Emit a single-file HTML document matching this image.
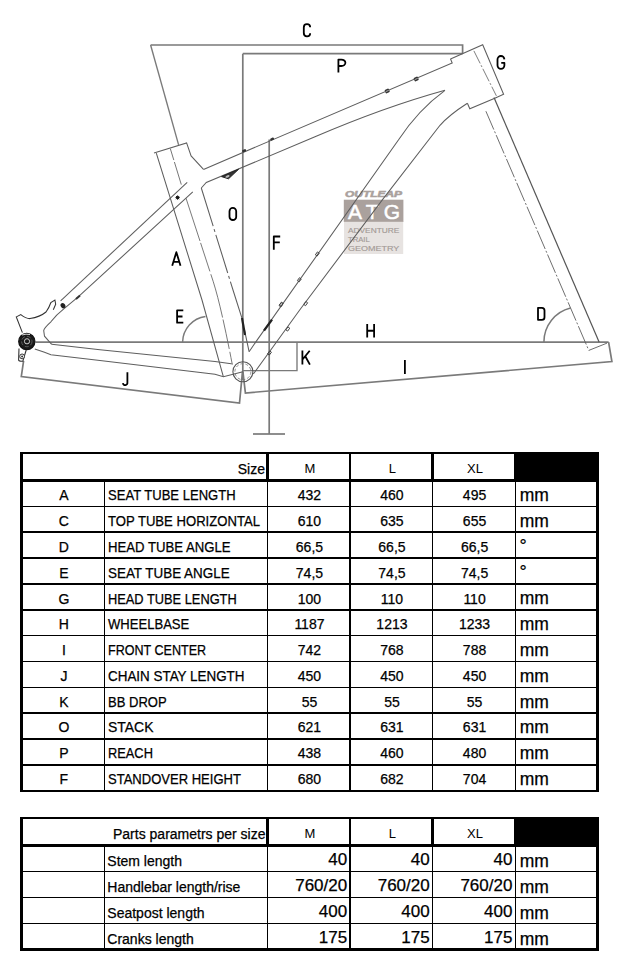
<!DOCTYPE html>
<html><head><meta charset="utf-8"><style>
html,body{margin:0;padding:0;background:#fff;}
body{width:622px;height:962px;position:relative;overflow:hidden;font-family:"Liberation Sans",sans-serif;color:#000;}
.l{position:absolute;background:#000;}
.t{position:absolute;white-space:nowrap;line-height:0;height:0;}
.t.c{text-align:center} .t.r{text-align:right}
.f13{font-size:13px} .f13_5{font-size:13.5px} .f14{font-size:14px} .f17{font-size:17px} .f17_5{font-size:17.5px} .f18{font-size:18px} .t{-webkit-text-stroke:0.25px #000} .t.ns{-webkit-text-stroke:0}
svg{position:absolute;left:0;top:0}
</style></head><body>
<svg width="622" height="440" viewBox="0 0 622 440"><g>
<rect x="343.8" y="199.7" width="59.6" height="22.3" fill="#aaa19d"/>
<rect x="344" y="221.8" width="59.2" height="32.2" fill="#e7e3e1"/>
<text x="345" y="196.8" font-family="Liberation Sans" font-weight="bold" font-style="italic" font-size="8.3" fill="#aaa19d" stroke="#aaa19d" stroke-width="0.5" textLength="57" lengthAdjust="spacingAndGlyphs">OUTLEAP</text>
<text x="348" y="218.8" font-family="Liberation Sans" font-size="21" fill="#fff" stroke="#fff" stroke-width="0.5" textLength="52" lengthAdjust="spacing">ATG</text>
<text x="348" y="232.7" font-family="Liberation Sans" font-size="8" fill="#a39a96" stroke="#a39a96" stroke-width="0.15" textLength="51.3" lengthAdjust="spacingAndGlyphs">ADVENTURE</text>
<text x="348" y="242.4" font-family="Liberation Sans" font-size="8" fill="#a39a96" stroke="#a39a96" stroke-width="0.15" textLength="21.7" lengthAdjust="spacingAndGlyphs">TRAIL</text>
<text x="348" y="250.9" font-family="Liberation Sans" font-size="8" fill="#a39a96" stroke="#a39a96" stroke-width="0.15" textLength="51.3" lengthAdjust="spacingAndGlyphs">GEOMETRY</text>
</g>
<path d="M150.6 45 H462.6 V53.6" stroke="#7a7a7a" stroke-width="1.7" fill="none" />
<path d="M150.6 45 L178.6 144.9" stroke="#7a7a7a" stroke-width="1.36" fill="none" />
<path d="M242.8 53.7 H462.6" stroke="#7a7a7a" stroke-width="1.7" fill="none" />
<path d="M242.8 53.7 V380" stroke="#7a7a7a" stroke-width="1.7" fill="none" />
<path d="M269.2 139.5 V434" stroke="#7a7a7a" stroke-width="1.7" fill="none" />
<path d="M253 434 H285" stroke="#7a7a7a" stroke-width="1.7" fill="none" />
<path d="M35.4 342.1 H608.6" stroke="#7a7a7a" stroke-width="1.7" fill="none" />
<path d="M242.9 370.6 H297 V342.1" stroke="#7a7a7a" stroke-width="1.36" fill="none" />
<path d="M242.9 371.7 L245.4 393 L611.9 361.6 L608.6 342.1" stroke="#7a7a7a" stroke-width="1.7" fill="none" />
<path d="M23.6 360.8 L21.3 376.5 L239.5 403 L242.5 371.7" stroke="#7a7a7a" stroke-width="1.7" fill="none" />
<path d="M182.6 342.1 A26.3 26.3 0 0 1 205.5 316.5" stroke="#7a7a7a" stroke-width="1.4" fill="none" />
<path d="M543.9 342.1 A35 35 0 0 1 570.5 308" stroke="#7a7a7a" stroke-width="1.5" fill="none" />
<path d="M154 153.1 L186.6 142.9 L191.1 155.9 L203.5 169.4" stroke="#5e5e5e" stroke-width="1.05" fill="none" />
<path d="M156.3 153.1 L202 300 L223.4 376.8" stroke="#5e5e5e" stroke-width="1.05" fill="none" />
<path d="M201.3 188 L233 290 L242 318.3 L249.1 351.7" stroke="#5e5e5e" stroke-width="1.05" fill="none" stroke-dasharray="40 3 3 3"/>
<path d="M242 318 L245 335" stroke="#222" stroke-width="2.2" fill="none" />
<path d="M170.3 148.6 L181.3 184.6" stroke="#666" stroke-width="0.9" fill="none" stroke-dasharray="12 2 30 2"/>
<path d="M186 198.2 L213.3 281.8 Q221 306 232 363" stroke="#6a6a6a" stroke-width="0.9" fill="none" stroke-dasharray="45 2 30 3"/>
<path d="M203.5 169.4 L452.2 63 L450.5 58.9" stroke="#5e5e5e" stroke-width="1.05" fill="none" />
<path d="M201.3 188 L206.3 182.5 L315 136.8 Q384.6 107 445 90.3" stroke="#5e5e5e" stroke-width="1.05" fill="none" />
<path d="M450.5 58.9 L482.7 44.8 L503.6 94.3 L494.8 98.3 L469.8 108.8 L467.4 103.2" stroke="#5e5e5e" stroke-width="1.05" fill="none" />
<path d="M473.9 50.9 L496.4 95.9" stroke="#5e5e5e" stroke-width="0.8" fill="none" stroke-dasharray="14 2 2 2"/>
<path d="M445 90.3 Q418 110 398.4 140 L256.2 341.4 L249.1 351.7" stroke="#5e5e5e" stroke-width="1.05" fill="none" />
<path d="M467.4 103.2 Q449 115 440 125.3 L382.9 199.1 L300.6 308.7 L253.3 374" stroke="#5e5e5e" stroke-width="1.05" fill="none" />
<path d="M264 330.7 L272 319.6" stroke="#222" stroke-width="2.3" fill="none" />
<rect x="315.5" y="252.9" width="3.6" height="2.2" fill="none" stroke="#444" stroke-width="0.9" transform="rotate(-54 317.3 254)"/>
<rect x="297.5" y="278.7" width="3.6" height="2.2" fill="none" stroke="#444" stroke-width="0.9" transform="rotate(-54 299.3 279.8)"/>
<rect x="279.5" y="303.09999999999997" width="3.6" height="2.2" fill="none" stroke="#444" stroke-width="0.9" transform="rotate(-54 281.3 304.2)"/>
<rect x="303.9" y="302.5" width="3.6" height="2.2" fill="none" stroke="#444" stroke-width="0.9" transform="rotate(-54 305.7 303.6)"/>
<rect x="279.2" y="303.7" width="3.6" height="2.2" fill="none" stroke="#444" stroke-width="0.9" transform="rotate(-54 281 304.8)"/>
<rect x="286.0" y="327.9" width="3.6" height="2.2" fill="none" stroke="#444" stroke-width="0.9" transform="rotate(-54 287.8 329)"/>
<rect x="267.7" y="351.9" width="3.6" height="2.2" fill="none" stroke="#444" stroke-width="0.9" transform="rotate(-54 269.5 353)"/>
<path d="M494 97.5 L599.1 342.1" stroke="#555" stroke-width="1.2" fill="none" />
<path d="M485.9 111.2 L588.8 350.4 L608.6 342.5" stroke="#5e5e5e" stroke-width="0.9" fill="none" stroke-dasharray="20 2 2 2"/>
<path d="M51.7 344.3 L100 349.8 L215 361.4 L233 364" stroke="#5e5e5e" stroke-width="1.05" fill="none" />
<path d="M34.8 349.1 L44.5 352.3 L50.9 354.7 L100 360.4 L215 374.2 L223.4 376.8 L242.9 371.7" stroke="#5e5e5e" stroke-width="1.05" fill="none" />
<path d="M60.6 300.9 L187.2 182.3" stroke="#5e5e5e" stroke-width="1.05" fill="none" />
<path d="M192.8 191.9 L78.2 296.9 L63.8 308.9 Q56 315 50.9 321.8 Q44 328 43.7 330.6 L44.5 336.2 L51.7 344.3" stroke="#5e5e5e" stroke-width="1.05" fill="none" />
<path d="M80 295.5 L76 299" stroke="#333" stroke-width="2" fill="none" />
<path d="M22.4 332.6 L16.3 316.9 L20.8 314.6 Q25.8 318.6 30 318.6 Q40 317 46 312 Q49 308 50.9 302.5 L54.9 300.1 L55.7 304.1 L53.3 309.7" stroke="#333" stroke-width="1.05" fill="none" />
<path d="M19 348.4 L18.6 360 Q19 361.5 22.8 361.3 L26.2 350" stroke="#333" stroke-width="1.1" fill="none" />
<circle cx="22.1" cy="356.4" r="2.4" fill="#fff" stroke="#333" stroke-width="1"/>
<circle cx="22.1" cy="356.6" r="1" fill="#333"/>
<circle cx="26.8" cy="341.5" r="8.1" fill="#1a1a1a" stroke="#111" stroke-width="1.2"/>
<circle cx="26.8" cy="341.5" r="5.2" fill="none" stroke="#777" stroke-width="0.7" stroke-dasharray="4 2"/>
<circle cx="27" cy="341.3" r="2.6" fill="none" stroke="#ccc" stroke-width="1"/>
<path d="M22 335 Q26 333.5 30 334.5" stroke="#ddd" stroke-width="1" fill="none"/>
<circle cx="242.9" cy="371.7" r="10" fill="none" stroke="#555" stroke-width="1.1"/>
<circle cx="242.9" cy="371.7" r="8" fill="none" stroke="#777" stroke-width="0.8" stroke-dasharray="3 2"/>
<ellipse cx="63" cy="305.7" rx="2.3" ry="2.8" fill="#222" transform="rotate(-30 63 305.7)"/>
<path d="M175.4 197.6 H179.79999999999998 M177.6 195.4 V199.79999999999998 M176.0 196.0 L179.2 199.2 M176.0 199.2 L179.2 196.0" stroke="#222" stroke-width="1"/>
<circle cx="177.6" cy="197.6" r="1.3" fill="#111"/>
<path d="M221.5 176.6 L238.6 169.2 L228.5 178.8 Z" fill="#333" stroke="#222" stroke-width="1"/>
<ellipse cx="227.5" cy="176.4" rx="2.2" ry="1.1" fill="#bbb" transform="rotate(-25 227.5 176.4)"/>
<rect x="242.2" y="149.5" width="4" height="2.4" rx="1" fill="#333" transform="rotate(-23 244.2 150.9)"/>
<rect x="270.2" y="137.9" width="4" height="2.4" rx="1" fill="#333" transform="rotate(-23 272.2 139.3)"/>
<rect x="385.0" y="89" width="4.4" height="4" rx="1" fill="#333" transform="rotate(-23 387.2 91)"/>
<path d="M385.7 91.6 L388.7 90.4" stroke="#ccc" stroke-width="0.8"/>
<rect x="414.0" y="77" width="4.4" height="4" rx="1" fill="#333" transform="rotate(-23 416.2 79)"/>
<path d="M414.7 79.6 L417.7 78.4" stroke="#ccc" stroke-width="0.8"/>
<path d="M310.2 27.340000000000014 A3.200000000000017 3.200000000000017 0 0 0 303.79999999999995 27.500000000000014 L303.79999999999995 33.09999999999999 A3.200000000000017 3.200000000000017 0 0 0 310.2 33.25999999999999" stroke="#000" stroke-width="1.8" fill="none" stroke-linejoin="round"/>
<path d="M338.4 72.60000000000001 L338.4 59.6 L341.4 59.6 A4.000000000000028 3.206500000000002 0 0 1 341.4 66.013 L338.4 66.013" stroke="#000" stroke-width="1.8" fill="none" stroke-linejoin="round"/>
<path d="M504.40000000000003 59.37750000000002 A3.450000000000017 3.450000000000017 0 0 0 497.5 59.55000000000002 L497.5 65.34999999999998 A3.450000000000017 3.450000000000017 0 0 0 504.40000000000003 65.34999999999998 L504.40000000000003 62.95 L501.25000000000006 62.95" stroke="#000" stroke-width="1.8" fill="none" stroke-linejoin="round"/>
<path d="M229.5 211.25 A3.3499999999999943 3.3499999999999943 0 0 1 236.2 211.25 L236.2 216.65 A3.3499999999999943 3.3499999999999943 0 0 1 229.5 216.65 Z" stroke="#000" stroke-width="1.8" fill="none" stroke-linejoin="round"/>
<path d="M273.79999999999995 249.7 L273.79999999999995 236.5 L280.2 236.5 M273.79999999999995 242.34999999999997 L279.8 242.34999999999997" stroke="#000" stroke-width="1.8" fill="none" stroke-linejoin="round"/>
<path d="M172.2 265.7 L176.35 252.2 L180.5 265.7 M173.5 261.91999999999996 L179.2 261.91999999999996" stroke="#000" stroke-width="1.8" fill="none" stroke-linejoin="round"/>
<path d="M183.29999999999998 310.29999999999995 L177.1 310.29999999999995 L177.1 322.7 L183.29999999999998 322.7 M177.1 316.5 L182.49999999999997 316.5" stroke="#000" stroke-width="1.8" fill="none" stroke-linejoin="round"/>
<path d="M367.2 324 L367.2 337.5 M374.1 324 L374.1 337.5 M367.2 330.75 L374.1 330.75" stroke="#000" stroke-width="1.8" fill="none" stroke-linejoin="round"/>
<path d="M404.9 360 L404.9 374.1" stroke="#000" stroke-width="1.8" fill="none" stroke-linejoin="round"/>
<path d="M127.4 372.2 L127.4 382.55 A2.25 2.25 0 0 1 122.9 383.225" stroke="#000" stroke-width="1.8" fill="none" stroke-linejoin="round"/>
<path d="M302.4 350.5 L302.4 364.6 M309.70000000000005 350.8 L302.7 359.242 M305.53499999999997 356.704 L309.90000000000003 364.6" stroke="#000" stroke-width="1.8" fill="none" stroke-linejoin="round"/>
<path d="M538.0 307.79999999999995 L541.9 307.79999999999995 A2.6 2.6 0 0 1 544.5 310.4 L544.5 317.2 A2.6 2.6 0 0 1 541.9 319.8 L538.0 319.8 Z" stroke="#000" stroke-width="1.8" fill="none" stroke-linejoin="round"/></svg>
<div class="l" style="left:515px;top:453px;width:84px;height:27.5px"></div>
<div class="l" style="left:20px;top:451.75px;width:579px;height:2.5px"></div>
<div class="l" style="left:20px;top:479.25px;width:579px;height:2.5px"></div>
<div class="l" style="left:20px;top:505.55px;width:579px;height:1.6px"></div>
<div class="l" style="left:20px;top:531.40px;width:579px;height:1.6px"></div>
<div class="l" style="left:20px;top:557.25px;width:579px;height:1.6px"></div>
<div class="l" style="left:20px;top:583.10px;width:579px;height:1.6px"></div>
<div class="l" style="left:20px;top:608.95px;width:579px;height:1.6px"></div>
<div class="l" style="left:20px;top:634.80px;width:579px;height:1.6px"></div>
<div class="l" style="left:20px;top:660.65px;width:579px;height:1.6px"></div>
<div class="l" style="left:20px;top:686.50px;width:579px;height:1.6px"></div>
<div class="l" style="left:20px;top:712.35px;width:579px;height:1.6px"></div>
<div class="l" style="left:20px;top:738.20px;width:579px;height:1.6px"></div>
<div class="l" style="left:20px;top:764.05px;width:579px;height:1.6px"></div>
<div class="l" style="left:20px;top:789.60px;width:579px;height:2.2px"></div>
<div class="l" style="left:20.00px;top:452px;width:3px;height:339.70000000000005px"></div>
<div class="l" style="left:596.00px;top:452px;width:3px;height:339.70000000000005px"></div>
<div class="l" style="left:266.45px;top:453px;width:2.5px;height:27.5px"></div>
<div class="l" style="left:348.95px;top:453px;width:2.5px;height:27.5px"></div>
<div class="l" style="left:431.45px;top:453px;width:2.5px;height:27.5px"></div>
<div class="l" style="left:514.15px;top:453px;width:2.5px;height:27.5px"></div>
<div class="l" style="left:103.70px;top:480.5px;width:1.6px;height:310.20000000000005px"></div>
<div class="l" style="left:266.90px;top:480.5px;width:1.6px;height:310.20000000000005px"></div>
<div class="l" style="left:349.40px;top:480.5px;width:1.6px;height:310.20000000000005px"></div>
<div class="l" style="left:431.90px;top:480.5px;width:1.6px;height:310.20000000000005px"></div>
<div class="l" style="left:514.60px;top:480.5px;width:1.6px;height:310.20000000000005px"></div>
<div class="t f14 r" style="left:65px;top:468.65px;width:200px">Size</div>
<div class="t f13 ns c" style="left:249.95px;top:469.0px;width:120px">M</div>
<div class="t f13 ns c" style="left:332.45px;top:469.0px;width:120px">L</div>
<div class="t f13 ns c" style="left:415.04999999999995px;top:469.0px;width:120px">XL</div>
<div class="t f14 c" style="left:3.8999999999999986px;top:495.45px;width:120px">A</div>
<div class="t f14" style="left:108.1px;top:495.45px;transform:scaleX(0.9318);transform-origin:0 0">SEAT TUBE LENGTH</div>
<div class="t f14 c" style="left:249.45px;top:495.45px;width:120px">432</div>
<div class="t f14 c" style="left:331.95px;top:495.45px;width:120px">460</div>
<div class="t f14 c" style="left:414.54999999999995px;top:495.45px;width:120px">495</div>
<div class="t f17_5" style="left:519.8px;top:495.34px">mm</div>
<div class="t f14 c" style="left:3.8999999999999986px;top:521.23px;width:120px">C</div>
<div class="t f14" style="left:108.1px;top:521.23px;transform:scaleX(0.9364);transform-origin:0 0">TOP TUBE HORIZONTAL</div>
<div class="t f14 c" style="left:249.45px;top:521.23px;width:120px">610</div>
<div class="t f14 c" style="left:331.95px;top:521.23px;width:120px">635</div>
<div class="t f14 c" style="left:414.54999999999995px;top:521.23px;width:120px">655</div>
<div class="t f17_5" style="left:519.8px;top:521.12px">mm</div>
<div class="t f14 c" style="left:3.8999999999999986px;top:547.01px;width:120px">D</div>
<div class="t f14" style="left:108.1px;top:547.01px;transform:scaleX(0.9398);transform-origin:0 0">HEAD TUBE ANGLE</div>
<div class="t f14 c" style="left:249.45px;top:547.01px;width:120px">66,5</div>
<div class="t f14 c" style="left:331.95px;top:547.01px;width:120px">66,5</div>
<div class="t f14 c" style="left:414.54999999999995px;top:547.01px;width:120px">66,5</div>
<div class="t f18" style="left:519.5px;top:546.22px">°</div>
<div class="t f14 c" style="left:3.8999999999999986px;top:572.79px;width:120px">E</div>
<div class="t f14" style="left:108.1px;top:572.79px;transform:scaleX(0.9588);transform-origin:0 0">SEAT TUBE ANGLE</div>
<div class="t f14 c" style="left:249.45px;top:572.79px;width:120px">74,5</div>
<div class="t f14 c" style="left:331.95px;top:572.79px;width:120px">74,5</div>
<div class="t f14 c" style="left:414.54999999999995px;top:572.79px;width:120px">74,5</div>
<div class="t f18" style="left:519.5px;top:572.0px">°</div>
<div class="t f14 c" style="left:3.8999999999999986px;top:598.57px;width:120px">G</div>
<div class="t f14" style="left:108.1px;top:598.57px;transform:scaleX(0.9157);transform-origin:0 0">HEAD TUBE LENGTH</div>
<div class="t f14 c" style="left:249.45px;top:598.57px;width:120px">100</div>
<div class="t f14 c" style="left:331.95px;top:598.57px;width:120px">110</div>
<div class="t f14 c" style="left:414.54999999999995px;top:598.57px;width:120px">110</div>
<div class="t f17_5" style="left:519.8px;top:598.46px">mm</div>
<div class="t f14 c" style="left:3.8999999999999986px;top:624.35px;width:120px">H</div>
<div class="t f14" style="left:108.1px;top:624.35px;transform:scaleX(0.933);transform-origin:0 0">WHEELBASE</div>
<div class="t f14 c" style="left:249.45px;top:624.35px;width:120px">1187</div>
<div class="t f14 c" style="left:331.95px;top:624.35px;width:120px">1213</div>
<div class="t f14 c" style="left:414.54999999999995px;top:624.35px;width:120px">1233</div>
<div class="t f17_5" style="left:519.8px;top:624.24px">mm</div>
<div class="t f14 c" style="left:3.8999999999999986px;top:650.13px;width:120px">I</div>
<div class="t f14" style="left:108.1px;top:650.13px;transform:scaleX(0.8975);transform-origin:0 0">FRONT CENTER</div>
<div class="t f14 c" style="left:249.45px;top:650.13px;width:120px">742</div>
<div class="t f14 c" style="left:331.95px;top:650.13px;width:120px">768</div>
<div class="t f14 c" style="left:414.54999999999995px;top:650.13px;width:120px">788</div>
<div class="t f17_5" style="left:519.8px;top:650.02px">mm</div>
<div class="t f14 c" style="left:3.8999999999999986px;top:675.91px;width:120px">J</div>
<div class="t f14" style="left:108.1px;top:675.91px;transform:scaleX(0.9588);transform-origin:0 0">CHAIN STAY LENGTH</div>
<div class="t f14 c" style="left:249.45px;top:675.91px;width:120px">450</div>
<div class="t f14 c" style="left:331.95px;top:675.91px;width:120px">450</div>
<div class="t f14 c" style="left:414.54999999999995px;top:675.91px;width:120px">450</div>
<div class="t f17_5" style="left:519.8px;top:675.8px">mm</div>
<div class="t f14 c" style="left:3.8999999999999986px;top:701.69px;width:120px">K</div>
<div class="t f14" style="left:108.1px;top:701.69px;transform:scaleX(0.9299);transform-origin:0 0">BB DROP</div>
<div class="t f14 c" style="left:249.45px;top:701.69px;width:120px">55</div>
<div class="t f14 c" style="left:331.95px;top:701.69px;width:120px">55</div>
<div class="t f14 c" style="left:414.54999999999995px;top:701.69px;width:120px">55</div>
<div class="t f17_5" style="left:519.8px;top:701.58px">mm</div>
<div class="t f14 c" style="left:3.8999999999999986px;top:727.47px;width:120px">O</div>
<div class="t f14" style="left:108.1px;top:727.47px;transform:scaleX(0.9969);transform-origin:0 0">STACK</div>
<div class="t f14 c" style="left:249.45px;top:727.47px;width:120px">621</div>
<div class="t f14 c" style="left:331.95px;top:727.47px;width:120px">631</div>
<div class="t f14 c" style="left:414.54999999999995px;top:727.47px;width:120px">631</div>
<div class="t f17_5" style="left:519.8px;top:727.36px">mm</div>
<div class="t f14 c" style="left:3.8999999999999986px;top:753.25px;width:120px">P</div>
<div class="t f14" style="left:108.1px;top:753.25px;transform:scaleX(0.916);transform-origin:0 0">REACH</div>
<div class="t f14 c" style="left:249.45px;top:753.25px;width:120px">438</div>
<div class="t f14 c" style="left:331.95px;top:753.25px;width:120px">460</div>
<div class="t f14 c" style="left:414.54999999999995px;top:753.25px;width:120px">480</div>
<div class="t f17_5" style="left:519.8px;top:753.14px">mm</div>
<div class="t f14 c" style="left:3.8999999999999986px;top:779.03px;width:120px">F</div>
<div class="t f14" style="left:108.1px;top:779.03px;transform:scaleX(0.9302);transform-origin:0 0">STANDOVER HEIGHT</div>
<div class="t f14 c" style="left:249.45px;top:779.03px;width:120px">680</div>
<div class="t f14 c" style="left:331.95px;top:779.03px;width:120px">682</div>
<div class="t f14 c" style="left:414.54999999999995px;top:779.03px;width:120px">704</div>
<div class="t f17_5" style="left:519.8px;top:778.92px">mm</div>
<div class="l" style="left:515px;top:818px;width:84px;height:27.299999999999955px"></div>
<div class="l" style="left:20px;top:816.75px;width:579px;height:2.5px"></div>
<div class="l" style="left:20px;top:844.05px;width:579px;height:2.5px"></div>
<div class="l" style="left:20px;top:870.57px;width:579px;height:1.6px"></div>
<div class="l" style="left:20px;top:896.64px;width:579px;height:1.6px"></div>
<div class="l" style="left:20px;top:922.71px;width:579px;height:1.6px"></div>
<div class="l" style="left:20px;top:948.48px;width:579px;height:2.2px"></div>
<div class="l" style="left:20.00px;top:817px;width:3px;height:133.57999999999993px"></div>
<div class="l" style="left:596.00px;top:817px;width:3px;height:133.57999999999993px"></div>
<div class="l" style="left:266.45px;top:818px;width:2.5px;height:27.299999999999955px"></div>
<div class="l" style="left:348.95px;top:818px;width:2.5px;height:27.299999999999955px"></div>
<div class="l" style="left:431.45px;top:818px;width:2.5px;height:27.299999999999955px"></div>
<div class="l" style="left:514.15px;top:818px;width:2.5px;height:27.299999999999955px"></div>
<div class="l" style="left:103.70px;top:845.3px;width:1.6px;height:104.27999999999997px"></div>
<div class="l" style="left:266.90px;top:845.3px;width:1.6px;height:104.27999999999997px"></div>
<div class="l" style="left:349.40px;top:845.3px;width:1.6px;height:104.27999999999997px"></div>
<div class="l" style="left:431.90px;top:845.3px;width:1.6px;height:104.27999999999997px"></div>
<div class="l" style="left:514.60px;top:845.3px;width:1.6px;height:104.27999999999997px"></div>
<div class="t f14 r" style="left:65.5px;top:833.95px;width:200px">Parts parametrs per size</div>
<div class="t f13 ns c" style="left:249.95px;top:834.3px;width:120px">M</div>
<div class="t f13 ns c" style="left:332.45px;top:834.3px;width:120px">L</div>
<div class="t f13 ns c" style="left:415.04999999999995px;top:834.3px;width:120px">XL</div>
<div class="t f14" style="left:107.3px;top:860.85px">Stem length</div>
<div class="t f17 r" style="left:147.2px;top:860.21px;width:200px">40</div>
<div class="t f17 r" style="left:229.7px;top:860.21px;width:200px">40</div>
<div class="t f17 r" style="left:312.4px;top:860.21px;width:200px">40</div>
<div class="t f17_5" style="left:519.8px;top:860.74px">mm</div>
<div class="t f14" style="left:107.3px;top:886.92px">Handlebar length/rise</div>
<div class="t f17 r" style="left:147.2px;top:886.28px;width:200px">760/20</div>
<div class="t f17 r" style="left:229.7px;top:886.28px;width:200px">760/20</div>
<div class="t f17 r" style="left:312.4px;top:886.28px;width:200px">760/20</div>
<div class="t f17_5" style="left:519.8px;top:886.81px">mm</div>
<div class="t f14" style="left:107.3px;top:912.99px">Seatpost length</div>
<div class="t f17 r" style="left:147.2px;top:912.35px;width:200px">400</div>
<div class="t f17 r" style="left:229.7px;top:912.35px;width:200px">400</div>
<div class="t f17 r" style="left:312.4px;top:912.35px;width:200px">400</div>
<div class="t f17_5" style="left:519.8px;top:912.88px">mm</div>
<div class="t f14" style="left:107.3px;top:939.06px">Cranks length</div>
<div class="t f17 r" style="left:147.2px;top:938.42px;width:200px">175</div>
<div class="t f17 r" style="left:229.7px;top:938.42px;width:200px">175</div>
<div class="t f17 r" style="left:312.4px;top:938.42px;width:200px">175</div>
<div class="t f17_5" style="left:519.8px;top:938.95px">mm</div>
</body></html>
